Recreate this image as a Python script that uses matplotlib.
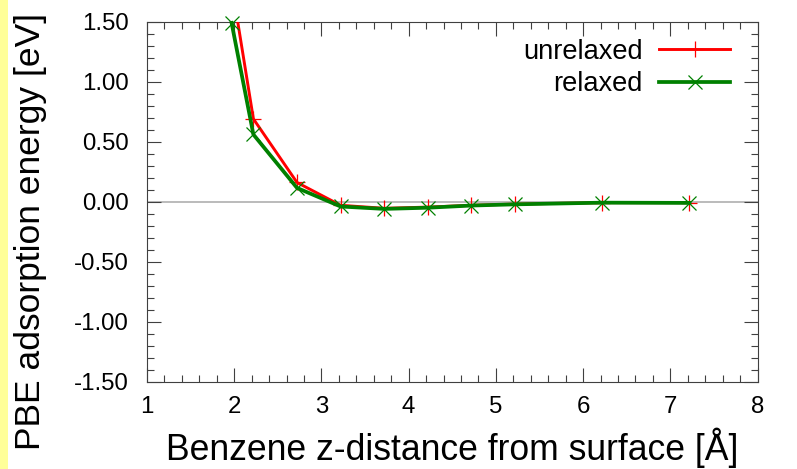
import matplotlib
matplotlib.use("Agg")
import matplotlib.pyplot as plt
from matplotlib.ticker import MultipleLocator, FormatStrFormatter
from matplotlib.patches import Rectangle

# ---- data ----
z_dist = [1.97, 2.22, 2.72, 3.22, 3.72, 4.22, 4.72, 5.22, 6.22, 7.22]
e_unrelaxed = [1.815, 0.69, 0.16, -0.030, -0.055, -0.045, -0.030, -0.020, -0.008, -0.008]
e_relaxed = [1.49, 0.56, 0.115, -0.040, -0.060, -0.050, -0.032, -0.022, -0.008, -0.010]
labels = ["unrelaxed", "relaxed"]
xlabel = "Benzene z-distance from surface [Å]"
ylabel = "PBE adsorption energy [eV]"

plt.rcParams['font.family'] = ['Liberation Sans', 'DejaVu Sans']

fig = plt.figure(figsize=(7.97, 4.69), dpi=100)
fig.patch.set_facecolor('white')
# yellow strip on the left edge
fig.patches.append(Rectangle((0, 0), 8 / 797, 1, transform=fig.transFigure,
                             facecolor='#ffff99', edgecolor='none', zorder=0))

ax = fig.add_axes([147 / 797, 1 - 381.7 / 469, (757.5 - 147) / 797, (381.7 - 21.7) / 469])

ax.axhline(0, color='#a8a8a8', lw=1.1, zorder=1)

ax.plot(z_dist, e_unrelaxed, color='#ff0000', lw=2.1, marker='+', ms=11,
        mew=0.9, label=labels[0], zorder=3)
ax.plot(z_dist, e_relaxed, color='#008000', lw=2.7, marker='x', ms=10,
        mew=0.9, label=labels[1], zorder=4, clip_on=False)

ax.set_xlim(1, 8)
ax.set_ylim(-1.5, 1.5)
ax.xaxis.set_major_locator(MultipleLocator(1))
ax.xaxis.set_minor_locator(MultipleLocator(0.2))
ax.yaxis.set_major_locator(MultipleLocator(0.5))
ax.yaxis.set_minor_locator(MultipleLocator(0.1))
ax.yaxis.set_major_formatter(FormatStrFormatter('%.2f'))

for s in ax.spines.values():
    s.set_color('#404040')
    s.set_linewidth(0.8)

ax.tick_params(which='both', direction='in', top=True, right=True,
               color='#404040', width=0.8)
ax.tick_params(which='major', length=10, labelsize=17.3)
ax.tick_params(axis='x', which='major', pad=10.5)
ax.tick_params(axis='y', which='major', pad=13)
ax.tick_params(which='minor', length=5)

ax.set_xlabel(xlabel, fontsize=25.6)
ax.set_ylabel(ylabel, fontsize=25.5)
ax.xaxis.set_label_coords(0.5, -0.128)
ax.yaxis.set_label_coords(-0.163, 0.4186)

leg = ax.legend(loc='upper right', bbox_to_anchor=(1 - 27.5 / 610.5, 1 - 17 / 360),
                frameon=False, markerfirst=False, fontsize=19.6, numpoints=1,
                handlelength=2.6, handletextpad=0.6, labelspacing=0.24,
                borderpad=0, borderaxespad=0)

fig.savefig('out.png', dpi=100)
